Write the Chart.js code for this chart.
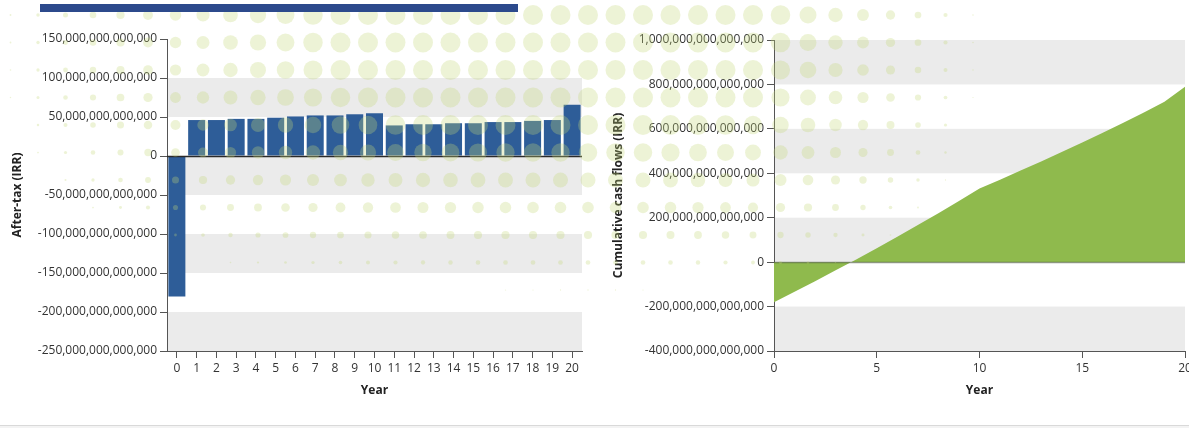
<!DOCTYPE html>
<html>
<head>
<meta charset="utf-8">
<script src="https://cdn.jsdelivr.net/npm/chart.js@4.4.1/dist/chart.umd.min.js"></script>
<style>
  html, body { margin: 0; padding: 0; background: #fff; }
  body { width: 1189px; height: 428px; position: relative; overflow: hidden; }
  #afterTaxBox { position: absolute; left: 0; top: 0; width: 600px; height: 428px; }
  #cumulativeBox { position: absolute; left: 600px; top: 0; width: 620px; height: 428px; }
  #dots { position: absolute; left: 0; top: 0; pointer-events: none; }
  .topBar { position: absolute; left: 40px; top: 4px; width: 478px; height: 8px; background: #2c4a8c; }
  .footLine { position: absolute; left: 0; top: 425px; width: 1189px; height: 3px; border-top: 1px solid #d9d9d9; background: #f3f3f3; }
</style>
</head>
<body>
<div id="afterTaxBox"><canvas id="afterTaxChart"></canvas></div>
<div id="cumulativeBox"><canvas id="cumulativeChart"></canvas></div>
<canvas id="dots" width="1189" height="428"></canvas>
<div class="topBar"></div>
<div class="footLine"></div>

<script>
// Years of the project
const years = ['0', '1', '2', '3', '4', '5', '6', '7', '8', '9', '10',
               '11', '12', '13', '14', '15', '16', '17', '18', '19', '20'];

// After-tax cash flow per year (IRR)
const afterTax = [-180e12, 46.1e12, 46.1e12, 47.6e12, 47.6e12, 49.1e12, 50.7e12, 52.0e12, 52.0e12, 53.5e12, 54.8e12,
                  39.2e12, 40.7e12, 40.7e12, 42.0e12, 42.0e12, 43.5e12, 43.5e12, 45.0e12, 46.1e12, 65.6e12];

// Cumulative cash flows (IRR)
const cumulative = [-180e12, -133e12, -86e12, -37e12, 12e12, 62e12, 114e12, 167e12, 220e12, 275e12, 331e12,
                    371e12, 412e12, 453e12, 496e12, 539e12, 583e12, 628e12, 674e12, 722e12, 789e12];

// Axis ranges: [min, max, step]
const afterTaxAxis = [-250e12, 150e12, 50e12];
const cumulativeAxis = [-400e12, 1000e12, 200e12];
const yearAxis = [0, 20, 5];

const FONT = "'Open Sans', 'Noto Sans', sans-serif";
const fmt = v => Number(v).toLocaleString('en-US');

// grey stripes between every other y tick, starting from the bottom
const bands = {
  id: 'bands',
  beforeDraw(chart) {
    const {ctx, chartArea: a, scales: {y}} = chart;
    const t = y.ticks;
    ctx.save();
    ctx.fillStyle = '#ebebeb';
    for (let i = 0; i < t.length - 1; i += 2) {
      const y0 = y.getPixelForValue(t[i].value);
      const y1 = y.getPixelForValue(t[i + 1].value);
      ctx.fillRect(a.left, y1, a.right - a.left, y0 - y1);
    }
    ctx.restore();
  }
};

// zero line drawn over the data
const zeroLine = {
  id: 'zeroLine',
  afterDatasetsDraw(chart, args, opts) {
    const {ctx, chartArea: a, scales: {y}} = chart;
    const py = Math.round(y.getPixelForValue(0)) + 0.5;
    ctx.save();
    ctx.strokeStyle = opts.color;
    ctx.lineWidth = opts.width;
    ctx.beginPath();
    ctx.moveTo(a.left, py);
    ctx.lineTo(a.right, py);
    ctx.stroke();
    ctx.restore();
  }
};

function yScale(range, title, width, titlePad) {
  return {
    min: range[0], max: range[1],
    afterFit: s => { s.width = width; },
    border: { color: '#555', width: 1 },
    grid: { drawOnChartArea: false, drawTicks: true, tickLength: 7, color: '#555' },
    ticks: { stepSize: range[2], padding: 3, color: '#333', font: { family: FONT, size: 12 }, callback: fmt },
    title: { display: true, text: title, color: '#222', padding: { top: titlePad, bottom: 0 },
             font: { family: FONT, size: 12, weight: 'bold' } }
  };
}

function xTitle() {
  return { display: true, text: 'Year', color: '#222', padding: { top: 0, bottom: 13 },
           font: { family: FONT, size: 12, weight: 'bold' } };
}

Chart.defaults.animation = false;
Chart.defaults.responsive = true;
Chart.defaults.maintainAspectRatio = false;

new Chart(document.getElementById('afterTaxChart'), {
  type: 'bar',
  data: {
    labels: years,
    datasets: [{ data: afterTax, backgroundColor: '#2e5d98', barPercentage: 0.86, categoryPercentage: 1 }]
  },
  options: {
    layout: { padding: { top: 39, right: 18, bottom: 17, left: 0 } },
    plugins: { legend: { display: false }, tooltip: { enabled: false }, zeroLine: { color: '#2a2a2a', width: 1.5 } },
    scales: {
      x: {
        afterFit: s => { s.height = 60; },
        border: { color: '#555', width: 1 },
        grid: { offset: false, drawOnChartArea: false, tickLength: 7, color: '#555' },
        ticks: { autoSkip: false, maxRotation: 0, padding: 3, color: '#333', font: { family: FONT, size: 12 } },
        title: xTitle()
      },
      y: yScale(afterTaxAxis, 'After-tax (IRR)', 167, 10)
    }
  },
  plugins: [bands, zeroLine]
});

new Chart(document.getElementById('cumulativeChart'), {
  type: 'line',
  data: {
    datasets: [{
      data: years.map((yr, i) => ({ x: Number(yr), y: cumulative[i] })),
      fill: 'origin', backgroundColor: '#8fba4d', borderWidth: 0, pointRadius: 0, tension: 0
    }]
  },
  options: {
    layout: { padding: { top: 40, right: 35, bottom: 17, left: 0 } },
    plugins: { legend: { display: false }, tooltip: { enabled: false }, zeroLine: { color: 'rgba(70,80,60,0.55)', width: 1.5 } },
    scales: {
      x: {
        type: 'linear', min: yearAxis[0], max: yearAxis[1],
        afterFit: s => { s.height = 60; },
        border: { color: '#555', width: 1 },
        grid: { drawOnChartArea: false, tickLength: 7, color: '#555' },
        ticks: { stepSize: yearAxis[2], maxRotation: 0, padding: 3, color: '#333', font: { family: FONT, size: 12 } },
        title: xTitle()
      },
      y: yScale(cumulativeAxis, 'Cumulative cash flows (IRR)', 174, 11)
    }
  },
  plugins: [bands, zeroLine]
});

// faint halftone dots laid over the page
function drawDots() {
  const ctx = document.getElementById('dots').getContext('2d');
  const cx = 600, cy = 10;
  ctx.fillStyle = 'rgba(196, 214, 120, 0.3)';
  for (let y = 15; y < 300; y += 27.5) {
    for (let x = 10.5; x < 1000; x += 27.5) {
      const dx = (x - cx) / (x < cx ? 620 : 390);
      const dy = (y - cy) / 290;
      const d = Math.pow(Math.abs(dx) ** 3 + Math.abs(dy) ** 3, 1 / 3);
      const r = 10 * Math.min(1, Math.max(0, (1 - d) / 0.55));
      if (r < 0.6) continue;
      ctx.beginPath();
      ctx.arc(x, y, r, 0, Math.PI * 2);
      ctx.fill();
    }
  }
}
drawDots();
</script>
</body>
</html>
